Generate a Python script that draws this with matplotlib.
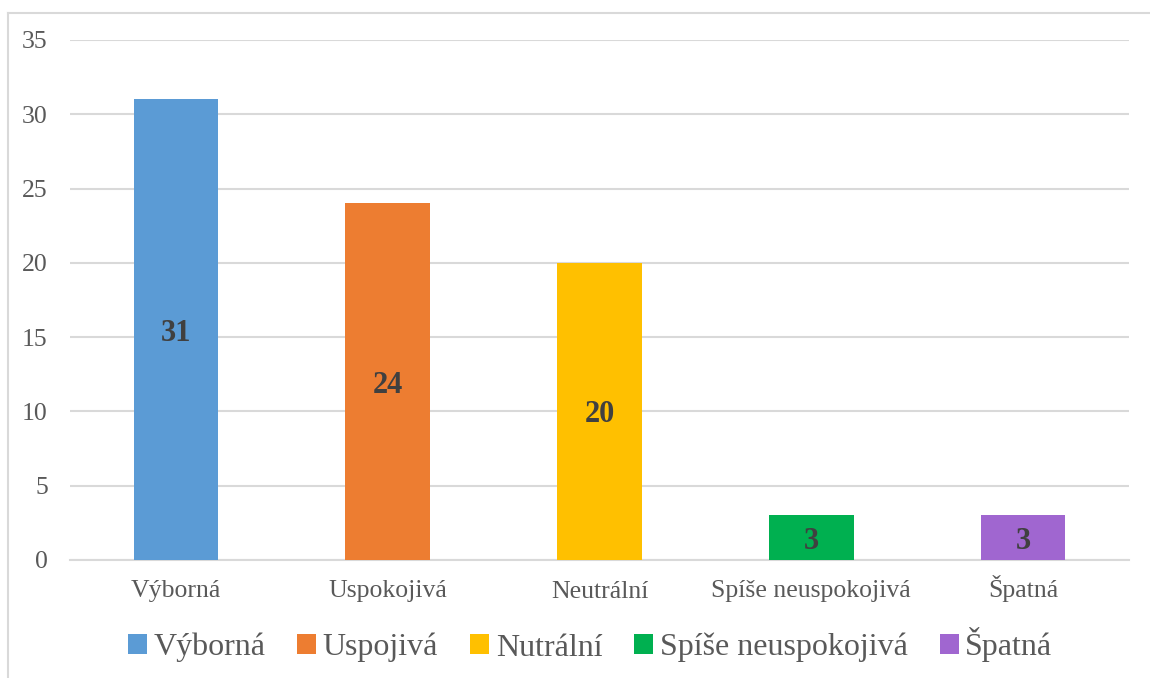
import matplotlib.pyplot as plt
from matplotlib.patches import Patch
from matplotlib.lines import Line2D

# data
categories = ['Výborná', 'Uspokojivá', 'Neutrální', 'Spíše neuspokojivá', 'Špatná']
legend_labels = ['Výborná', 'Uspojivá', 'Nutrální', 'Spíše neuspokojivá', 'Špatná']
values = [31, 24, 20, 3, 3]
colors = ['#5B9BD5', '#ED7D31', '#FFC000', '#00B050', '#A066D0']

plt.rcParams['font.family'] = ['Liberation Serif', 'DejaVu Serif']

fig = plt.figure(figsize=(11.5, 6.78), dpi=100)
ax = fig.add_axes([70/1150, 1-560/678, 1059/1150, 520/678])

x = range(len(categories))
bars = ax.bar(x, values, width=0.40, color=colors, zorder=3)
for b, v in zip(bars, values):
    ax.text(b.get_x() + b.get_width()/2, v/2, str(v), ha='center', va='center_baseline',
            fontsize=22, fontweight='bold', color='#404040', zorder=4)

ax.set_xlim(-0.5, len(categories) - 0.5)
ax.set_ylim(0, 35)
ax.set_yticks(range(0, 36, 5))
ax.set_xticks(list(x))
ax.set_xticklabels(categories)
ax.grid(axis='y', color='#D9D9D9', linewidth=1.5, zorder=0)
for s in ['top', 'right', 'left']:
    ax.spines[s].set_visible(False)
ax.spines['bottom'].set_color('#D9D9D9')
ax.spines['bottom'].set_linewidth(1.5)
ax.tick_params(axis='both', length=0, labelsize=18.5, labelcolor='#595959')
ax.tick_params(axis='y', pad=16)
ax.tick_params(axis='x', pad=27)
for lbl in ax.get_xticklabels():
    lbl.set_va('baseline')

# legend
handles = [Patch(facecolor=c, edgecolor='none') for c in colors]
fig.legend(handles, legend_labels, loc='center', bbox_to_anchor=(590/1150, 1-645/678),
           ncol=5, frameon=False, fontsize=23, handlelength=0.6, handleheight=0.6,
           handletextpad=0.2, columnspacing=1.0, labelcolor='#595959')

# chart frame
fig.add_artist(Line2D([8/1150, 8/1150], [0, 1-13/678], transform=fig.transFigure,
                      color='#D9D9D9', linewidth=1.5))
fig.add_artist(Line2D([8/1150, 1], [1-13/678, 1-13/678], transform=fig.transFigure,
                      color='#D9D9D9', linewidth=1.5))

plt.savefig('out.png', dpi=100)
plt.close()
